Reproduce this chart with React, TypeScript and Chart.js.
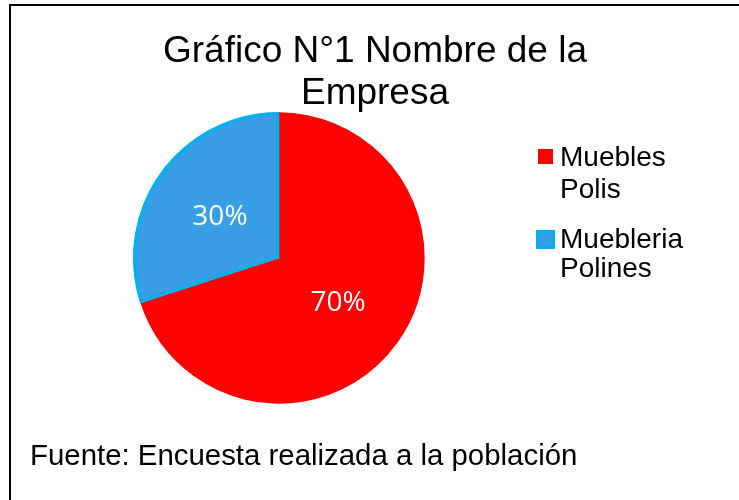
import React, { useEffect, useRef } from "react";
import { Chart, registerables } from "chart.js";

Chart.register(...registerables);

const titleLines = ["Gráfico N°1 Nombre de la", "Empresa"];
const categories = ["Muebles Polis", "Muebleria Polines"];
const values = [70, 30];
const fillColors = ["#FF0000", "#3A9EE4"];
const edgeColors = ["#FF0000", "#00B0F0"];
const footerText = "Fuente: Encuesta realizada a la población";

const overlay = {
  id: "overlay",
  afterDraw(chart: any) {
    const ctx = chart.ctx;
    ctx.save();
    // frame
    ctx.fillStyle = "#000";
    ctx.fillRect(9, 4, 730, 2);
    ctx.fillRect(9, 4, 2, 496);

    // title
    ctx.fillStyle = "#000";
    ctx.textAlign = "center";
    ctx.textBaseline = "alphabetic";
    ctx.font = "37px 'Liberation Sans', Arial, sans-serif";
    titleLines.forEach((t, i) => ctx.fillText(t, 375, 62 + i * 42));

    // slice labels
    const total = values.reduce((a, b) => a + b, 0);
    const meta = chart.getDatasetMeta(0);
    ctx.fillStyle = "#fff";
    ctx.font = "28px 'Open Sans', 'Noto Sans', sans-serif";
    ctx.textBaseline = "middle";
    meta.data.forEach((arc: any, i: number) => {
      const p = arc.tooltipPosition();
      ctx.fillText(Math.round((values[i] / total) * 100) + "%", p.x, p.y + 2);
    });

    // legend
    ctx.textAlign = "left";
    ctx.textBaseline = "alphabetic";
    ctx.font = "28px 'Liberation Sans', Arial, sans-serif";
    const baselines = [
      [166, 198],
      [248, 277],
    ];
    categories.forEach((c, i) => {
      const words = c.split(" ");
      const box = i === 0 ? { x: 538, y: 149, s: 15 } : { x: 536, y: 230, s: 19 };
      ctx.fillStyle = edgeColors[i];
      ctx.fillRect(box.x, box.y, box.s, box.s);
      if (i === 1) {
        ctx.fillStyle = fillColors[i];
        ctx.fillRect(box.x + 3, box.y + 3, box.s - 6, box.s - 6);
      }
      ctx.fillStyle = "#000";
      words.forEach((w, j) => ctx.fillText(w, 560, baselines[i][j]));
    });

    // footer
    ctx.font = "29.4px 'Liberation Sans', Arial, sans-serif";
    ctx.fillText(footerText, 30, 465);
    ctx.restore();
  },
};

export default function App() {
  const ref = useRef<HTMLCanvasElement>(null);
  useEffect(() => {
    document.body.style.margin = "0";
    const chart = new Chart(ref.current!, {
      type: "pie",
      data: {
        labels: categories,
        datasets: [
          {
            data: values,
            backgroundColor: fillColors,
            borderColor: edgeColors,
            borderWidth: [0, 3],
            borderAlign: "inner",
          } as any,
        ],
      },
      options: {
        responsive: false,
        animation: false,
        devicePixelRatio: 1,
        layout: { padding: { left: 133, right: 314, top: 112, bottom: 96 } },
        plugins: {
          legend: { display: false },
          title: { display: false },
          tooltip: { enabled: false },
        },
      },
      plugins: [overlay],
    });
    return () => chart.destroy();
  }, []);
  return (
    <div style={{ position: "absolute", left: 0, top: 0, width: 739, height: 500, background: "#fff" }}>
      <canvas ref={ref} width={739} height={500} style={{ display: "block" }} />
    </div>
  );
}
